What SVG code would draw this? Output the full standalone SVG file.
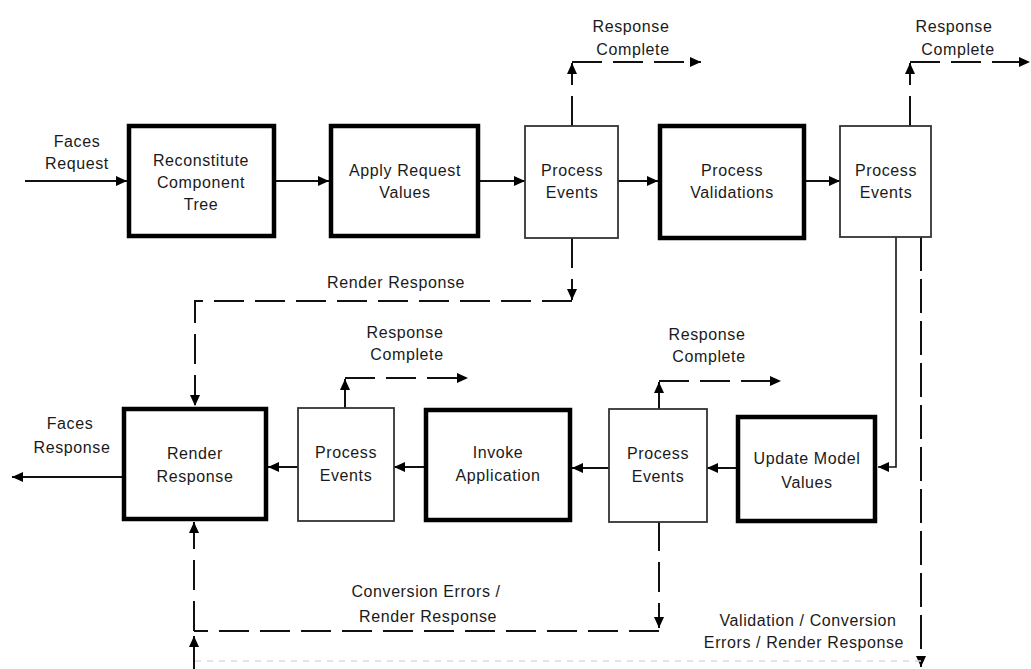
<svg xmlns="http://www.w3.org/2000/svg" width="1031" height="669" viewBox="0 0 1031 669">
<style>
text{font-family:"Liberation Sans",Arial,sans-serif;font-size:16px;letter-spacing:0.6px;fill:#1a1a1a;text-anchor:middle}
.thick{fill:#fff;stroke:#000;stroke-width:4.5}
.thin{fill:#fff;stroke:#333;stroke-width:1.8}
.ln{fill:none;stroke:#111;stroke-width:2}
.ds{fill:none;stroke:#111;stroke-width:2;stroke-dasharray:30 11}
.dv{fill:none;stroke:#111;stroke-width:2;stroke-dasharray:34 8}
.faint{fill:none;stroke:#dcdcdc;stroke-width:1.5;stroke-dasharray:6 6}
</style>
<defs>
<marker id="ah" markerUnits="userSpaceOnUse" markerWidth="11" markerHeight="10" refX="11" refY="5" orient="auto">
<path d="M0,0 L11,5 L0,10 z" fill="#000"/>
</marker>
</defs>
<rect width="1031" height="669" fill="#fff"/>
<g id="connectors">
<path class="ln" d="M25,181 L127,181" marker-end="url(#ah)"/>
<path class="ln" d="M276,181 L329,181" marker-end="url(#ah)"/>
<path class="ln" d="M480,181 L525,181" marker-end="url(#ah)"/>
<path class="ln" d="M618,181 L658,181" marker-end="url(#ah)"/>
<path class="ln" d="M806,181 L840,181" marker-end="url(#ah)"/>
<path class="ds" d="M572,126 L572,63" marker-end="url(#ah)"/>
<path class="ds" d="M572,62 L701,62" marker-end="url(#ah)"/>
<path class="ds" d="M910,126 L910,63" marker-end="url(#ah)"/>
<path class="ds" d="M910,62 L1030,62" marker-end="url(#ah)"/>
<path class="ds" d="M572,238 L572,300" marker-end="url(#ah)"/>
<path class="ds" d="M572,301 L195,301 L195,406" marker-end="url(#ah)"/>
<path class="ln" style="stroke-width:1.6" d="M896,237 L896,467 L878,467" marker-end="url(#ah)"/>
<path class="dv" d="M921,237 L921,667" marker-end="url(#ah)"/>
<path class="ln" d="M736,468 L707,468" marker-end="url(#ah)"/>
<path class="ln" d="M609,468 L572,468" marker-end="url(#ah)"/>
<path class="ln" d="M424,467 L394,467" marker-end="url(#ah)"/>
<path class="ln" d="M298,467 L268,467" marker-end="url(#ah)"/>
<path class="ln" d="M122,477 L12,477" marker-end="url(#ah)"/>
<path class="ds" d="M345,408 L345,379" marker-end="url(#ah)"/>
<path class="ds" d="M345,378 L468,378" marker-end="url(#ah)"/>
<path class="ds" d="M659,409 L659,382" marker-end="url(#ah)"/>
<path class="ds" d="M659,381 L781,381" marker-end="url(#ah)"/>
<path class="ds" d="M659,521 L659,628" marker-end="url(#ah)"/>
<path class="ds" d="M659,631 L194,631"/>
<path class="ds" d="M194,631 L194,522" marker-end="url(#ah)"/>
<path class="ln" d="M194,669 L194,636" marker-end="url(#ah)"/>
<path class="faint" d="M921,661 L194,661"/>
</g>
<g id="reconstitute">
<rect class="thick" x="129" y="126" width="145" height="110"/>
<text x="201" y="166">Reconstitute</text>
<text x="201" y="188">Component</text>
<text x="201" y="210">Tree</text>
</g>
<g id="apply-request-values">
<rect class="thick" x="331" y="126" width="147" height="110"/>
<text x="405" y="176">Apply Request</text>
<text x="405" y="198">Values</text>
</g>
<g id="process-events-1">
<rect class="thin" x="525" y="126" width="93" height="112"/>
<text x="572" y="176">Process</text>
<text x="572" y="198">Events</text>
</g>
<g id="process-validations">
<rect class="thick" x="660" y="126" width="144" height="112"/>
<text x="732" y="176">Process</text>
<text x="732" y="198">Validations</text>
</g>
<g id="process-events-2">
<rect class="thin" x="840" y="126" width="91" height="111"/>
<text x="886" y="176">Process</text>
<text x="886" y="198">Events</text>
</g>
<g id="render-response">
<rect class="thick" x="124" y="409" width="142" height="110"/>
<text x="195" y="459">Render</text>
<text x="195" y="482">Response</text>
</g>
<g id="process-events-3">
<rect class="thin" x="298" y="408" width="96" height="113"/>
<text x="346" y="458">Process</text>
<text x="346" y="481">Events</text>
</g>
<g id="invoke-application">
<rect class="thick" x="426" y="410" width="144" height="110"/>
<text x="498" y="458">Invoke</text>
<text x="498" y="481">Application</text>
</g>
<g id="process-events-4">
<rect class="thin" x="609" y="409" width="98" height="113"/>
<text x="658" y="459">Process</text>
<text x="658" y="482">Events</text>
</g>
<g id="update-model-values">
<rect class="thick" x="738" y="417" width="137" height="104"/>
<text x="807" y="464">Update Model</text>
<text x="807" y="488">Values</text>
</g>
<g id="labels">
<text x="77" y="147">Faces</text>
<text x="77" y="169">Request</text>
<text x="70" y="429">Faces</text>
<text x="72" y="453">Response</text>
<text x="631" y="32">Response</text>
<text x="633" y="55">Complete</text>
<text x="954" y="32">Response</text>
<text x="958" y="55">Complete</text>
<text x="396" y="288">Render Response</text>
<text x="405" y="338">Response</text>
<text x="407" y="360">Complete</text>
<text x="707" y="340">Response</text>
<text x="709" y="362">Complete</text>
<text x="426" y="597">Conversion Errors /</text>
<text x="428" y="622">Render Response</text>
<text x="808" y="626">Validation / Conversion</text>
<text x="804" y="648">Errors / Render Response</text>
</g>
</svg>
